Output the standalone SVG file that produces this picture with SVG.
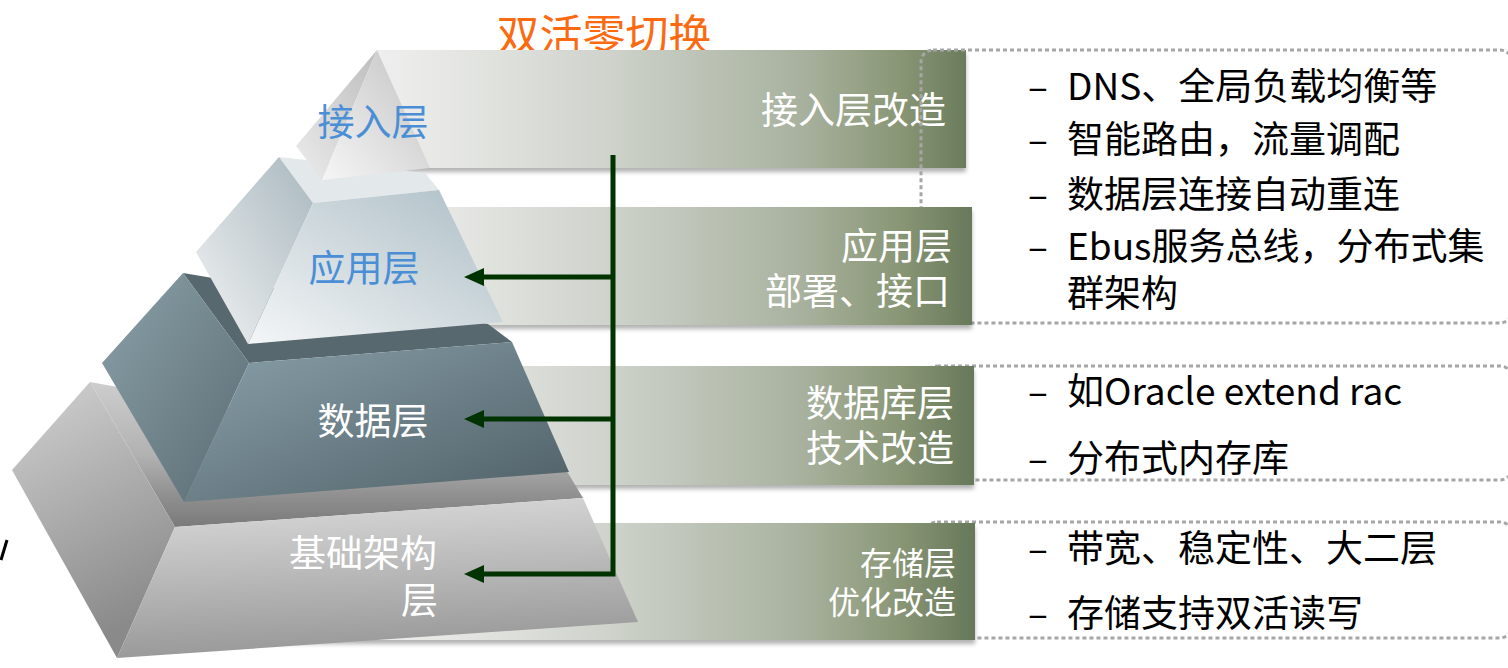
<svg xmlns="http://www.w3.org/2000/svg" width="1508" height="668" viewBox="0 0 1508 668">
<style>
  .cjk { font-family: "Noto Sans CJK SC", "Liberation Sans", sans-serif; }
  .blue { fill: #4a8fd6; font-size: 37px; }
  .wt { fill: #ffffff; font-size: 37px; }
  .bandtxt { fill: #ffffff; font-size: 37px; text-anchor: end; }
  .bandtxt2 { fill: #ffffff; font-size: 32px; text-anchor: end; }
  .item { fill: #000000; font-size: 37px; }
  .band { fill: url(#bandG); filter: url(#shadow); }
  .dot { fill: none; stroke: #a6a6a6; stroke-width: 3; stroke-dasharray: 4 3; }
  .conn { fill: none; stroke: #003300; stroke-width: 5; }
</style>
<defs>
  <filter id="shadow" x="-5%" y="-10%" width="110%" height="130%">
    <feDropShadow dx="0" dy="4" stdDeviation="2" flood-color="#000" flood-opacity="0.3"/>
  </filter>
  <linearGradient id="bandG" gradientUnits="userSpaceOnUse" x1="380" y1="0" x2="975" y2="0">
    <stop offset="0" stop-color="#eeeeee"/>
    <stop offset="0.12" stop-color="#e6e7e4"/>
    <stop offset="0.37" stop-color="#d0d4cd"/>
    <stop offset="0.54" stop-color="#bcc3b6"/>
    <stop offset="0.71" stop-color="#a8b19e"/>
    <stop offset="0.87" stop-color="#8a9776"/>
    <stop offset="1" stop-color="#66785a"/>
  </linearGradient>
  <linearGradient id="t1L" x1="1" y1="0" x2="0" y2="1">
    <stop offset="0" stop-color="#bdbdbd"/><stop offset="1" stop-color="#ececec"/>
  </linearGradient>
  <linearGradient id="t1F" x1="1" y1="0" x2="0" y2="1">
    <stop offset="0" stop-color="#c2c2c2"/><stop offset="1" stop-color="#f6f6f6"/>
  </linearGradient>
  <linearGradient id="t2L" x1="1" y1="0" x2="0" y2="1">
    <stop offset="0" stop-color="#a9b8bf"/><stop offset="1" stop-color="#f2f3f3"/>
  </linearGradient>
  <linearGradient id="t2F" x1="1" y1="0" x2="0" y2="1">
    <stop offset="0" stop-color="#adbec6"/><stop offset="1" stop-color="#f4f6f7"/>
  </linearGradient>
  <linearGradient id="t3L" x1="0" y1="0" x2="1" y2="1">
    <stop offset="0" stop-color="#8aa0a8"/><stop offset="1" stop-color="#5b6c73"/>
  </linearGradient>
  <linearGradient id="t3F" x1="0" y1="0" x2="1" y2="1">
    <stop offset="0" stop-color="#8aa1ab"/><stop offset="1" stop-color="#4f5f66"/>
  </linearGradient>
  <linearGradient id="t4L" x1="0" y1="0" x2="0.3" y2="1">
    <stop offset="0" stop-color="#d2d2d2"/><stop offset="1" stop-color="#8a8a8a"/>
  </linearGradient>
  <linearGradient id="t4F" x1="0.3" y1="0" x2="0.45" y2="1">
    <stop offset="0" stop-color="#d8d8d8"/><stop offset="1" stop-color="#969696"/>
  </linearGradient>
  <linearGradient id="t4T" x1="0" y1="0" x2="0" y2="1">
    <stop offset="0" stop-color="#cdcdcd"/>
    <stop offset="0.5" stop-color="#b2b2b2"/>
    <stop offset="0.8" stop-color="#8e8e8e"/>
    <stop offset="1" stop-color="#7a7a7a"/>
  </linearGradient>
  <marker id="ah" markerUnits="userSpaceOnUse" markerWidth="20" markerHeight="18" refX="8" refY="9" orient="auto">
    <path d="M0,0 L20,9 L0,18 Z" fill="#003300"/>
  </marker>
</defs>

<rect width="1508" height="668" fill="#ffffff"/>

<!-- title -->
<text id="title" class="cjk" x="604" y="51" text-anchor="middle" font-size="43" fill="#fb6a10">双活零切换</text>

<!-- bands and side boxes -->
<g id="band1">
  <rect class="band" x="377" y="50" width="589" height="118"/>
  <text class="cjk bandtxt" x="946" y="124">接入层改造</text>
</g>
<g id="boxes">
  <rect class="dot" x="921" y="50" width="591" height="273" rx="12"/>
  <rect class="dot" x="925" y="366" width="587" height="114" rx="12"/>
  <rect class="dot" x="925" y="522" width="587" height="116" rx="12"/>
</g>
<g id="band2">
  <rect class="band" x="320" y="207" width="652" height="118"/>
  <text class="cjk bandtxt" x="952" y="260">应用层</text>
  <text class="cjk bandtxt" x="950" y="305">部署、接口</text>
</g>
<g id="band3">
  <rect class="band" x="260" y="366" width="714" height="119"/>
  <text class="cjk bandtxt" x="954" y="417">数据库层</text>
  <text class="cjk bandtxt" x="954" y="462">技术改造</text>
</g>
<g id="band4">
  <rect class="band" x="190" y="523" width="785" height="117"/>
  <text class="cjk bandtxt2" x="956" y="575">存储层</text>
  <text class="cjk bandtxt2" x="956" y="614">优化改造</text>
</g>

<!-- pyramid tiers -->
<g id="tier4">
  <path d="M90,382 L565,468 L583,498 L175,527 Z" fill="url(#t4T)"/>
  <path d="M90,382 L175,527 L117,658 L12,470 Z" fill="url(#t4L)"/>
  <path d="M175,527 L583,498 L638,622 L117,658 Z" fill="url(#t4F)"/>
  <text class="cjk wt" x="437" y="567" text-anchor="end">基础架构</text>
  <text class="cjk wt" x="438" y="614" text-anchor="end">层</text>
</g>
<g id="tier3">
  <path d="M183,273 L488,324 L512,342 L249,363 Z" fill="#58686f"/>
  <path d="M183,273 L249,363 L184,502 L102,363 Z" fill="url(#t3L)"/>
  <path d="M249,363 L512,342 L569,472 L184,502 Z" fill="url(#t3F)"/>
  <text class="cjk wt" x="373" y="435" text-anchor="middle">数据层</text>
</g>
<g id="tier2">
  <path d="M279,157 L425,173 L439,190 L313,203 Z" fill="#e3e8ea"/>
  <path d="M279,157 L313,203 L248,344 L196,252 Z" fill="url(#t2L)"/>
  <path d="M313,203 L439,190 L503,322 L248,344 Z" fill="url(#t2F)"/>
  <text class="cjk blue" x="364" y="282" text-anchor="middle">应用层</text>
</g>
<g id="tier1">
  <path d="M377,50 L296,146 L322,180 Z" fill="url(#t1L)"/>
  <path d="M377,50 L322,180 L430,168 Z" fill="url(#t1F)"/>
  <text class="cjk blue" x="373" y="136" text-anchor="middle">接入层</text>
</g>

<!-- left edge fragment -->
<line x1="7" y1="540" x2="1" y2="560" stroke="#000000" stroke-width="3"/>

<!-- connectors -->
<g id="connectors">
  <path class="conn" d="M613,155 V574 H476" marker-end="url(#ah)"/>
  <path class="conn" d="M613,277 H476" marker-end="url(#ah)"/>
  <path class="conn" d="M613,419 H476" marker-end="url(#ah)"/>
</g>

<!-- right side items -->
<g id="list1" class="cjk item">
  <text y="100"><tspan x="1028">–</tspan><tspan x="1067">DNS、全局负载均衡等</tspan></text>
  <text y="153"><tspan x="1028">–</tspan><tspan x="1067">智能路由，流量调配</tspan></text>
  <text y="208"><tspan x="1028">–</tspan><tspan x="1067">数据层连接自动重连</tspan></text>
  <text y="260"><tspan x="1028">–</tspan><tspan x="1067">Ebus服务总线，分布式集</tspan></text>
  <text y="307"><tspan x="1067">群架构</tspan></text>
</g>
<g id="list2" class="cjk item">
  <text y="405"><tspan x="1028">–</tspan><tspan x="1067">如Oracle extend rac</tspan></text>
  <text y="472"><tspan x="1028">–</tspan><tspan x="1067">分布式内存库</tspan></text>
</g>
<g id="list3" class="cjk item">
  <text y="562"><tspan x="1028">–</tspan><tspan x="1067">带宽、稳定性、大二层</tspan></text>
  <text y="627"><tspan x="1028">–</tspan><tspan x="1067">存储支持双活读写</tspan></text>
</g>
</svg>
